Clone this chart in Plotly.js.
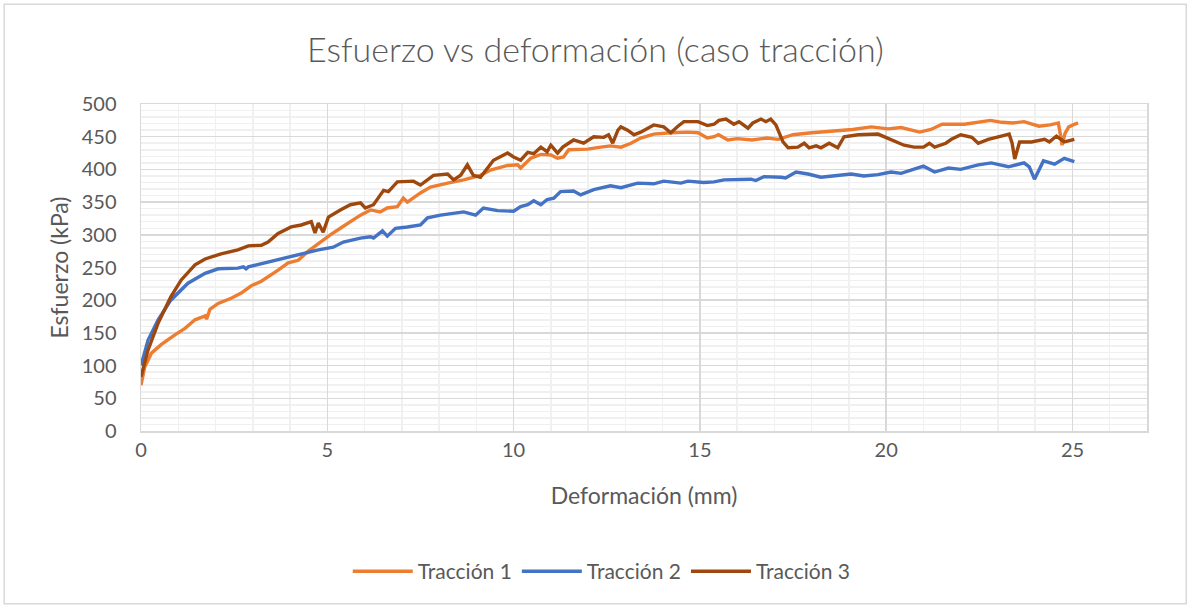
<!DOCTYPE html>
<html>
<head>
<meta charset="utf-8">
<script src="https://cdn.plot.ly/plotly-3.0.1.min.js"></script>
<style>
html,body{margin:0;padding:0;background:#fff;}
#chart{width:1191px;height:606px;}
</style>
</head>
<body>
<div id="chart"></div>
<script>
const seriesNames = ["Tracción 1", "Tracción 2", "Tracción 3"];
const seriesColors = ["#ED7D31", "#4472C4", "#9E480E"];

const x1 = [0,0.1,0.28,0.54,0.91,1.18,1.45,1.61,1.72,1.76,1.85,2.07,2.42,2.69,2.96,3.23,3.49,3.68,3.95,4.22,4.49,4.67,4.84,5.08,5.35,5.62,5.89,6.16,6.42,6.61,6.88,7.04,7.15,7.5,7.77,8.23,8.66,9.11,9.38,9.84,10.11,10.19,10.46,10.73,11.0,11.18,11.34,11.48,11.99,12.34,12.6,12.88,13.15,13.41,13.76,14.22,14.68,14.95,15.2,15.38,15.5,15.75,16.0,16.4,16.8,17.1,17.5,18.0,18.6,19.1,19.6,20.05,20.4,20.9,21.2,21.5,22.1,22.8,23.1,23.4,23.7,24.1,24.4,24.62,24.68,24.72,24.8,24.9,25.05,25.15];
const y1 = [70,98,119,132,147,157,170,174,176,171,186,195,203,211,222,229,238,246,257,261,275,283,289,300,310,320,330,338,335,341,343,356,350,364,373,379,384,391,399,406,407,402,417,423,422,417,419,430,431,434,436,434,440,448,454,456,457,456,448,450,453,445,447,445,448,446,453,456,459,461,465,462,464,457,461,469,469,475,472,471,473,466,468,471,452,437,455,465,469,471];

const x2 = [0,0.19,0.46,0.8,1.26,1.72,2.07,2.6,2.75,2.82,2.88,3.33,3.76,4.14,4.4,4.76,5.16,5.43,5.89,6.16,6.24,6.48,6.61,6.83,7.15,7.5,7.69,8.04,8.66,8.98,9.19,9.57,10.0,10.19,10.38,10.54,10.73,10.9,11.08,11.26,11.61,11.8,12.15,12.6,12.88,13.33,13.76,14.03,14.49,14.68,15.1,15.38,15.65,16.37,16.5,16.72,17.18,17.3,17.58,17.9,18.25,18.6,19.06,19.4,19.78,20.13,20.4,21.0,21.3,21.67,22.0,22.47,22.82,23.28,23.7,23.84,23.98,24.22,24.52,24.78,25.05];
const y2 = [100,139,170,200,226,241,248,249,251,248,251,257,263,269,272,277,281,289,295,297,295,306,298,310,312,315,326,330,335,330,341,337,336,343,346,352,346,354,356,366,367,361,369,375,372,379,378,382,379,382,380,381,384,385,383,389,388,387,396,393,388,390,393,390,392,396,394,405,396,402,400,407,410,404,410,404,385,413,408,417,412];

const x3 = [0,0.19,0.46,0.8,1.08,1.45,1.72,2.15,2.6,2.88,3.23,3.41,3.68,4.03,4.3,4.57,4.67,4.76,4.89,5.03,5.35,5.62,5.89,6.02,6.24,6.51,6.64,6.88,7.31,7.5,7.85,8.23,8.39,8.58,8.76,8.92,9.11,9.3,9.46,9.84,10.0,10.19,10.38,10.54,10.73,10.9,11.0,11.18,11.32,11.61,11.88,12.15,12.42,12.55,12.66,12.8,12.88,13.06,13.23,13.41,13.76,14.03,14.22,14.41,14.57,14.95,15.2,15.38,15.51,15.7,15.91,16.05,16.29,16.42,16.64,16.77,16.9,17.04,17.23,17.37,17.63,17.8,17.93,18.12,18.25,18.47,18.7,18.87,19.25,19.78,20.13,20.48,20.75,21.0,21.16,21.3,21.6,21.75,22.0,22.3,22.47,22.74,23.09,23.3,23.38,23.45,23.58,23.9,24.25,24.38,24.57,24.78,25.05];
const y3 = [83,124,165,205,231,254,263,271,277,283,284,289,302,312,315,320,303,318,304,327,338,346,349,341,346,368,366,381,382,376,391,393,384,391,407,391,388,402,414,425,419,414,426,424,434,427,437,425,434,445,440,450,449,453,440,460,465,460,453,457,468,465,456,466,473,473,467,469,475,477,469,473,463,471,477,473,477,468,442,433,434,440,433,436,433,440,433,450,453,454,446,437,434,434,440,434,440,446,453,449,440,446,451,454,440,416,442,442,446,442,451,442,446];

const xTickVals = [0,5,10,15,20,25];
const yTickVals = [0,50,100,150,200,250,300,350,400,450,500];

const xs = [x1, x2, x3];
const ys = [y1, y2, y3];

const traces = seriesNames.map((n, i) => ({
  type: 'scatter', mode: 'lines', name: n,
  x: xs[i], y: ys[i],
  line: {color: seriesColors[i], width: 3.4, shape: 'linear'}
}));

const fontFam = 'Lato, "Open Sans", sans-serif';
const grey = '#595959';

const layout = {
  width: 1191, height: 606,
  margin: {l: 141, r: 44, t: 104, b: 175},
  paper_bgcolor: '#ffffff', plot_bgcolor: '#ffffff',
  font: {family: fontFam, color: grey, size: 20},
  title: {text: 'Esfuerzo vs deformación (caso tracción)', x: 0.5, xanchor: 'center', y: 0.918, yanchor: 'middle',
          font: {family: fontFam, size: 34, color: grey, weight: 300}},
  xaxis: {
    range: [0, 27], tickvals: xTickVals, ticktext: xTickVals.map(String),
    showgrid: true, gridcolor: '#d9d9d9', gridwidth: 1.5,
    minor: {dtick: 1, tick0: 0, showgrid: true, gridcolor: '#f0f0f0', gridwidth: 1.5, ticks: ''},
    showline: true, linecolor: '#d9d9d9', linewidth: 1.5, mirror: true,
    zeroline: false, ticks: '', ticklen: 0,
    tickfont: {size: 20, color: grey, family: fontFam},
    title: {text: 'Deformación (mm)', font: {size: 23, color: grey, family: fontFam}, standoff: 28}
  },
  yaxis: {
    range: [0, 500], tickvals: yTickVals, ticktext: yTickVals.map(String),
    showgrid: true, gridcolor: '#d9d9d9', gridwidth: 1.5,
    minor: {dtick: 10, tick0: 0, showgrid: true, gridcolor: '#f0f0f0', gridwidth: 1.5, ticks: ''},
    showline: true, linecolor: '#d9d9d9', linewidth: 1.5, mirror: true,
    zeroline: false, ticks: '', ticklen: 0, ticklabelstandoff: 19,
    tickfont: {size: 20, color: grey, family: fontFam},
    title: {text: 'Esfuerzo (kPa)', font: {size: 23, color: grey, family: fontFam}, standoff: 6}
  },
  showlegend: true,
  legend: {orientation: 'h', x: 0.458, xanchor: 'center', y: -0.43, yanchor: 'middle',
           font: {size: 21, color: grey, family: fontFam}, itemwidth: 60, tracegroupgap: 0},
  shapes: [{type: 'rect', xref: 'paper', yref: 'paper',
            x0: -0.136, x1: 1.039, y0: -0.528, y1: 1.305,
            line: {color: '#d9d9d9', width: 1.5}, fillcolor: 'rgba(0,0,0,0)', layer: 'below'}]
};

Plotly.newPlot('chart', traces, layout, {displayModeBar: false, staticPlot: true});
</script>
</body>
</html>
